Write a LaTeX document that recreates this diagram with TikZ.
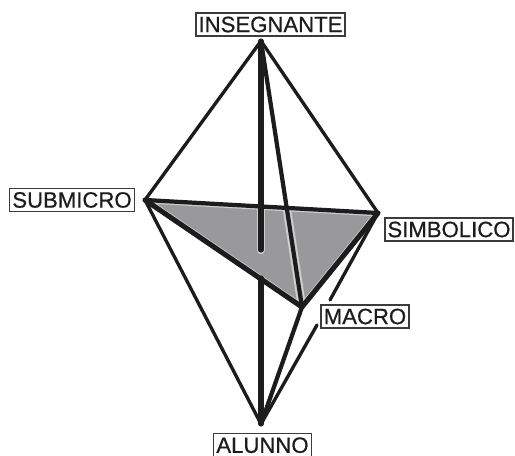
\documentclass[tikz,border=0pt]{standalone}
\usepackage{fontspec}
\setmainfont{Liberation Sans}[FakeBold=0.6]
\usepackage{tikz}
\usetikzlibrary{positioning,calc}
\definecolor{edgeblack}{RGB}{28,28,28}
\definecolor{facegray}{RGB}{153,153,155}
\definecolor{halogray}{RGB}{205,205,205}
\definecolor{boxgray}{RGB}{60,60,60}
\tikzset{
  lbl/.style={draw=boxgray,line width=0.8pt,fill=white,text=edgeblack,inner xsep=1.5pt,inner ysep=0pt,
    minimum height=0.46cm,font=\fontsize{12.6}{14}\selectfont},
  thinedge/.style={edgeblack,line width=1.9pt,line cap=round,line join=round},
  midedge/.style={edgeblack,line width=2.4pt,line cap=round,line join=round},
  thickedge/.style={edgeblack,line width=2.9pt,line cap=round,line join=round},
  haloedge/.style={halogray,line width=4.8pt,line cap=round}
}
\begin{document}
\begin{tikzpicture}
  \useasboundingbox (0,0) rectangle (10.3,9.12);
  \coordinate (top) at (5.22,8.30);
  \coordinate (sub) at (2.90,5.12);
  \coordinate (sim) at (7.56,4.86);
  \coordinate (mac) at (6.04,2.98);
  \coordinate (alu) at (5.22,0.64);
  \coordinate (centre) at (5.22,4.12);
  \coordinate (below) at (5.22,3.56);
  \coordinate (simgap) at (6.60,3.12);
  \coordinate (alugap) at (6.34,2.62);

  \node[lbl] (insegnante) at (5.41,8.63) {INSEGNANTE};
  \node[lbl] (submicro) at (1.44,5.12) {SUBMICRO};
  \node[lbl] (simbolico) at (8.98,4.53) {SIMBOLICO};
  \node[lbl] (macro) at (7.30,2.79) {MACRO};
  \node[lbl,anchor=north] (alunno) at (5.25,0.46) {ALUNNO};

  % face and what shows through it
  \fill[facegray] (sub) -- (sim) -- (mac) -- cycle;
  \begin{scope}
    \clip (sub) -- (sim) -- (mac) -- cycle;
    \draw[halogray,line width=3.8pt] (sub) -- (sim) -- (mac) -- cycle;
    \draw[haloedge] (top) -- (centre);
    \draw[haloedge] (top) -- (mac);
  \end{scope}

  \draw[thickedge] (top) -- (centre);
  \draw[thickedge] (below) -- (alu);
  \draw[midedge] (top) -- (mac);
  \draw[thinedge] (top) -- (sub);
  \draw[thinedge] (top) -- (sim);
  \draw[midedge] (sub) -- (sim);
  \draw[thickedge] (sub) -- (mac);
  \draw[thickedge] (sim) -- (mac);
  \draw[thinedge] (sub) -- (alu);
  \draw[midedge] (mac) -- (alu);
  \draw[thinedge] (sim) -- (simgap);
  \draw[thinedge] (alugap) -- (alu);
\end{tikzpicture}
\end{document}
